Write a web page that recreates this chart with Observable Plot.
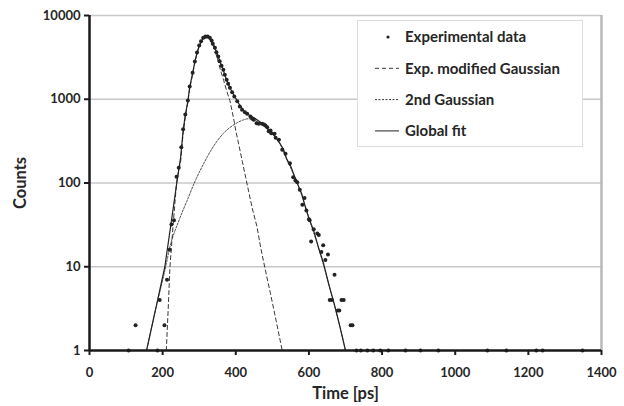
<!DOCTYPE html>
<html>
<head>
<meta charset="utf-8">
<script src="https://cdn.jsdelivr.net/npm/d3@7"></script>
<script src="https://cdn.jsdelivr.net/npm/@observablehq/plot@0.6"></script>
<style>
  html, body { margin: 0; padding: 0; background: #fff; }
  #wrap { position: relative; width: 624px; height: 406px; font-family: Lato, "Open Sans", sans-serif; }
  #legend { position: absolute; left: 357px; top: 20px; }
  svg text { fill: #262626; }
  g[aria-label="y-axis label"] text, g[aria-label="x-axis label"] text { font-size: 16.5px; }
</style>
</head>
<body>
<div id="wrap"></div>
<script>
// Experimental data (time in ps, counts)
const expTime = [107,126,186,192,205,212,219,224,231,238,244,251,256,262,269,274,282,288,294,300,305,311,317,323,329,334,337,343,347,352,356,361,366,370,375,379,384,390,396,404,411,417,425,431,440,445,449,457,463,472,477,481,486,490,495,497,506,509,518,527,536,548,557,563,568,575,582,588,593,600,602,606,613,623,627,634,639,645,652,657,663,670,679,683,689,695,714,719,730,742,760,776,795,817,864,905,954,1088,1140,1222,1239,1348];
const expCounts = [1,2,1,4,2,7,16,32,36,119,152,268,439,658,966,1420,2070,2825,3615,4385,4930,5420,5610,5610,5420,5030,4590,4110,3650,3240,2845,2510,2250,1960,1708,1528,1370,1214,1079,948,819,748,701,670,622,585,568,518,509,509,500,486,464,415,424,394,387,347,328,249,223,172,117,107,102,83,55,66,47,37,36,20,28,25,24,15,18,12,14,4,4,8,3,3,4,4,2,2,1,1,1,1,1,1,1,1,1,1,1,1,1,1];

// Exp. modified Gaussian (dashed)
const emgTime = [210,215,220,229,238,245,249,256,262,269,274,282,288,294,300,306,312,318,324,330,336,342,348,354,360,367,372,378,384,390,395,400,406,412,418,427,435,445,458,468,480,495,510,527];
const emgCounts = [1,3,10,33,100,150,175,390,610,910,1340,1980,2720,3500,4250,4850,5300,5400,5380,5120,4600,3900,3250,2600,2100,1675,1400,1150,960,720,560,420,320,240,180,117,80,50,30,17,9.5,4.75,2.3,1];

// 2nd Gaussian (dotted)
const g2Time = [156,180,206,221,245,267,290,312,322,345,367,390,404,420,435,450,465,480,490,500,520,540,560,580,600,626,655,685,700];
const g2Counts = [1,3,9,18,36,62,108,170,205,300,395,480,525,565,585,565,520,465,425,385,298,188,121,72,38,17,6,1.9,1];

// Global fit (solid)
const fitTime = [156,180,206,223,240,249,256,262,269,274,282,288,294,300,306,312,318,324,330,336,342,348,354,360,366,372,378,384,390,398,406,414,422,430,440,450,460,470,480,490,500,510,520,530,540,550,560,570,580,590,600,613,626,640,655,670,685,700];
const fitCounts = [1,3,10,33,110,200,420,650,960,1400,2050,2800,3600,4350,4950,5400,5600,5600,5380,4900,4200,3600,3050,2600,2200,1850,1580,1380,1220,1060,920,810,730,680,630,600,560,525,480,430,390,345,300,255,190,160,122,95,75,52,38,27,17,11,6,3.5,1.9,1];

const xTicks = [0,200,400,600,800,1000,1200,1400];
const yTicks = [1,10,100,1000,10000];
const gridValues = [10,100,1000,10000];

const legendItems = ["Experimental data","Exp. modified Gaussian","2nd Gaussian","Global fit"];

const expData = expTime.map((t,i) => ({t, c: expCounts[i]}));
const emgData = emgTime.map((t,i) => ({t, c: emgCounts[i]}));
const g2Data = g2Time.map((t,i) => ({t, c: g2Counts[i]}));
const fitData = fitTime.map((t,i) => ({t, c: fitCounts[i]}));

const ink = "#222";

const chart = Plot.plot({
  width: 624,
  height: 406,
  marginLeft: 89,
  marginRight: 23,
  marginTop: 15,
  marginBottom: 56,
  style: {fontFamily: "Lato, 'Open Sans', sans-serif", fontWeight: "bold", fontSize: "13px", background: "#fff", color: "#262626"},
  x: {domain: [0,1400]},
  y: {type: "log", domain: [1,10000]},
  marks: [
    Plot.ruleY(gridValues, {stroke: "#c8c8c8", strokeWidth: 1.3}),
    Plot.ruleX([1400], {stroke: "#b8b8b8", strokeWidth: 2.5}),
    Plot.line(g2Data, {x: "t", y: "c", stroke: ink, strokeWidth: 0.8, strokeDasharray: "2,1.5", curve: "monotone-x", clip: true}),
    Plot.line(emgData, {x: "t", y: "c", stroke: ink, strokeWidth: 0.9, strokeDasharray: "4,3", clip: true}),
    Plot.line(fitData, {x: "t", y: "c", stroke: ink, strokeWidth: 1.2, clip: true}),
    Plot.dot(expData, {x: "t", y: "c", r: 2, fill: ink, stroke: "none"}),
    Plot.ruleX([0], {stroke: "#1a1a1a", strokeWidth: 2.5}),
    Plot.ruleY([1], {stroke: "#1a1a1a", strokeWidth: 2.5}),
    Plot.axisY({ticks: yTicks, tickFormat: d3.format("d"), tickSize: 5, tickPadding: 4, strokeWidth: 2, stroke: "#1a1a1a",
      label: "Counts", labelAnchor: "center", labelArrow: "none", labelOffset: 75}),
    Plot.axisX({ticks: xTicks, tickFormat: d3.format("d"), tickSize: 5, tickPadding: 12, strokeWidth: 2, stroke: "#1a1a1a",
      label: "Time [ps]", labelAnchor: "center", labelArrow: "none", labelOffset: 48})
  ]
});

const wrap = document.getElementById("wrap");
wrap.appendChild(chart);

// Legend
const lg = d3.select(wrap).append("svg")
  .attr("id", "legend").attr("width", 226).attr("height", 127)
  .style("font-family", "Lato, 'Open Sans', sans-serif").style("font-weight", "bold").style("font-size", "15px");
lg.append("rect").attr("x", 0.5).attr("y", 0.5).attr("width", 225).attr("height", 126)
  .attr("fill", "#fff").attr("stroke", "#dcdcdc");
const rowY = i => 17 + i * 31.3;
legendItems.forEach((name, i) => {
  const g = lg.append("g").attr("transform", `translate(0,${rowY(i)})`);
  if (i === 0) {
    g.append("circle").attr("cx", 31).attr("cy", 0).attr("r", 1.6).attr("fill", ink);
  } else {
    const dash = i === 1 ? "4,3" : i === 2 ? "2,1.5" : null;
    const l = g.append("line").attr("x1", 18).attr("x2", 42).attr("y1", 0).attr("y2", 0)
      .attr("stroke", i === 3 ? "#555" : ink).attr("stroke-width", i === 3 ? 1.3 : 0.9);
    if (dash) l.attr("stroke-dasharray", dash);
  }
  g.append("text").attr("x", 48).attr("y", 0).attr("dy", "0.35em").attr("fill", "#262626").text(name);
});
</script>
</body>
</html>
